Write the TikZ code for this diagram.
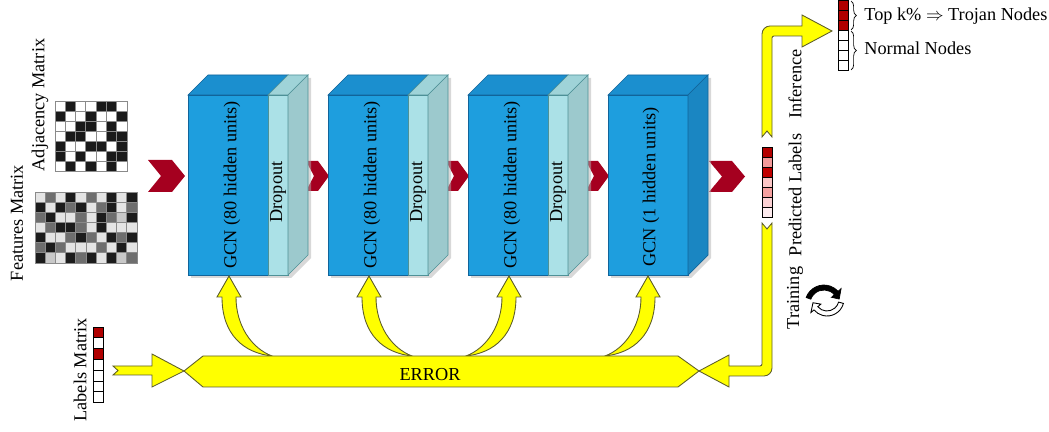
\documentclass[tikz,border=0pt]{standalone}
\usepackage{fontspec}
\setmainfont{Liberation Serif}
\usetikzlibrary{decorations.pathreplacing,arrows.meta}
\definecolor{gcnF}{HTML}{1E9EDE}
\definecolor{gcnT}{HTML}{1B8FCF}
\definecolor{gcnS}{HTML}{1A86C2}
\definecolor{gcnE}{HTML}{11649A}
\definecolor{drF}{HTML}{ABE1E7}
\definecolor{drT}{HTML}{9FD3D8}
\definecolor{drS}{HTML}{9CC9CD}
\definecolor{drE}{HTML}{4E9197}
\definecolor{chev}{HTML}{A5001F}
\definecolor{yel}{HTML}{FFFF00}
\definecolor{yelE}{HTML}{5E5E2A}
\definecolor{dred}{HTML}{B00000}
\definecolor{a0}{HTML}{FFFFFF}
\definecolor{a1}{HTML}{1A1A1A}
\definecolor{fL}{HTML}{E4E4E4}
\definecolor{fS}{HTML}{C8C8C8}
\definecolor{fM}{HTML}{6E6E6E}
\definecolor{fK}{HTML}{1C1C1C}
\definecolor{gridgray}{HTML}{8A8A8A}
\definecolor{p1}{HTML}{B30000}
\definecolor{p2}{HTML}{F39A9A}
\definecolor{p3}{HTML}{C00000}
\definecolor{p4}{HTML}{FBC6C6}
\definecolor{p5}{HTML}{F5A0A0}
\definecolor{p6}{HTML}{FBD0D3}
\definecolor{p7}{HTML}{FDEBEE}
\definecolor{pw}{HTML}{FFFFFF}
\definecolor{pr}{HTML}{B00000}

\tikzset{
  lbl/.style={font=\fontsize{10.4}{12}\selectfont, inner sep=0pt},
  yarr/.style={fill=yel, draw=yelE, line width=0.5pt, line join=miter},
  chevshape/.style={fill=chev, draw=none},
  cellbox/.style={draw=black, line width=0.5pt},
}

% block: #1 x0, #2 label, #3 dropout flag, #4 name
\newcommand\gcnblock[4]{%
  \pgfmathsetmacro\xa{#1}%
  \pgfmathsetmacro\xb{#1+80}%
  \ifnum#3=1 \pgfmathsetmacro\xr{#1+100}\else\pgfmathsetmacro\xr{#1+80}\fi
  \fill[black!30,opacity=0.5] (\xa+3,278) -- (\xa+3,98) -- (\xa+23,78) -- (\xr+23,78) -- (\xr+23,258) -- (\xr+3,278) -- cycle;
  \filldraw[fill=gcnF,draw=gcnE,line width=0.4pt] (\xa,95) rectangle (\xb,275);
  \filldraw[fill=gcnT,draw=gcnE,line width=0.4pt] (\xa,95) -- (\xa+20,75) -- (\xb+20,75) -- (\xb,95) -- cycle;
  \ifnum#3=1
    \filldraw[fill=drF,draw=drE,line width=0.4pt] (\xb,95) rectangle (\xr,275);
    \filldraw[fill=drT,draw=drE,line width=0.4pt] (\xb,95) -- (\xb+20,75) -- (\xr+20,75) -- (\xr,95) -- cycle;
    \filldraw[fill=drS,draw=drE,line width=0.4pt] (\xr,95) -- (\xr+20,75) -- (\xr+20,255) -- (\xr,275) -- cycle;
    \node[lbl,rotate=90] (#4-gcn) at (\xa+44,185) {#2};
    \node[lbl,rotate=90] (#4-drop) at (\xb+10,192) {Dropout};
  \else
    \filldraw[fill=gcnS,draw=gcnE,line width=0.4pt] (\xb,95) -- (\xb+20,75) -- (\xb+20,255) -- (\xb,275) -- cycle;
    \node[lbl,rotate=90] (#4-gcn) at (\xa+43,187) {#2};
  \fi
}

% curved feedback arrow: #1 tip x, #2 direction (1 = tail to the right, -1 = to the left)
\newcommand\feedback[2]{%
  \begin{scope}[shift={(#1,0)},xscale=#2]
    \filldraw[yarr] (0,276) -- (12,297) -- (7,297) .. controls (7,325) and (22,348) .. (43,356)
      .. controls (15,353) and (-7,335) .. (-7,297) -- (-12,297) -- cycle;
  \end{scope}
}

\begin{document}
\begin{tikzpicture}[x=0.02cm,y=-0.02cm]
\useasboundingbox (0,0) rectangle (1049,432);

% ---------- adjacency matrix ----------
\foreach \row [count=\r] in {{0,1,0,0,1,1,0},{1,0,0,1,0,0,1},{0,0,1,1,0,1,0},{0,1,1,0,0,1,1},{1,0,0,1,1,0,1},{1,0,1,0,0,1,1},{0,1,0,1,0,1,0}}{
  \foreach \v [count=\c] in \row {
    \filldraw[fill=a\v, draw=gridgray, line width=0.5pt] ({55+(\c-1)*10.3},{101+(\r-1)*10.1}) rectangle ++(10.3,10.1);
  }
}
% ---------- features matrix ----------
\foreach \row [count=\r] in {{L,M,L,K,L,M,L,K,L,K},{K,L,K,M,K,L,M,K,L,M},{M,K,L,L,M,L,K,M,S,K},{L,M,K,K,M,L,K,L,L,L},{K,L,L,M,K,M,L,K,M,K},{M,K,M,L,L,L,M,L,K,L},{K,S,L,K,M,K,L,K,S,M}}{
  \foreach \v [count=\c] in \row {
    \filldraw[fill=f\v, draw=gridgray, line width=0.5pt] ({35+(\c-1)*10.2},{192+(\r-1)*10.15}) rectangle ++(10.2,10.15);
  }
}
\node[lbl,rotate=90] (adjlbl) at (40,105) {Adjacency Matrix};
\node[lbl,rotate=90] (featlbl) at (17,223) {Features Matrix};

% ---------- chevrons ----------
\fill[chevshape] (148,160) -- (172,160) -- (185,176) -- (172,192) -- (148,192) -- (161,176) -- cycle;
\foreach \cx in {306,446,586}{
  \fill[chevshape] (\cx,161) -- (\cx+12,161) -- (\cx+23,176) -- (\cx+12,191) -- (\cx,191) -- (\cx+8,176) -- cycle;
}
\fill[chevshape] (709,161) -- (732,161) -- (745,176.5) -- (732,192) -- (709,192) -- (722,176.5) -- cycle;

% ---------- blocks ----------
\gcnblock{188}{GCN (80 hidden units)}{1}{b1}
\gcnblock{328}{GCN (80 hidden units)}{1}{b2}
\gcnblock{468}{GCN (80 hidden units)}{1}{b3}
\gcnblock{608}{GCN (1 hidden units)}{0}{b4}

% ---------- feedback arrows ----------
\feedback{229}{1}
\feedback{369}{1}
\feedback{509}{-1}
\feedback{648}{-1}

% ---------- error bar and input arrow ----------
\filldraw[yarr] (184,371) -- (203,356) -- (678,356) -- (699,371) -- (678,387) -- (203,387) -- cycle;
\node[lbl] (err) at (430,375) {ERROR};
\filldraw[yarr] (113,366) -- (152,366) -- (152,354) -- (184,371) -- (152,387) -- (152,375) -- (113,375) -- (118,370.5) -- cycle;

% labels matrix
\foreach \col [count=\i] in {pr,pw,pr,pw,pw,pw,pw}{
  \filldraw[cellbox, fill=\col] (93,{327+(\i-1)*10.8}) rectangle ++(10,10.8);
}
\node[lbl,rotate=90] (labmat) at (80,370) {Labels Matrix};

% ---------- predicted labels ----------
\foreach \col [count=\i] in {p1,p2,p3,p4,p5,p6,p7}{
  \filldraw[cellbox, fill=\col] (762,{147+(\i-1)*10}) rectangle ++(10,10);
}

% inference arrow (up and right)
\filldraw[yarr] (762,137) -- (762,34) arc[start angle=180,end angle=270,radius=8] -- (802,26) -- (802,15) -- (832,31) -- (802,47) -- (802,36) -- (774,36) arc[start angle=270,end angle=180,radius=2] -- (772,137) -- (767,131) -- cycle;
% training arrow (down and left)
\filldraw[yarr] (762,223) -- (767,229) -- (772,223) -- (772,368) arc[start angle=0,end angle=90,radius=8] -- (729,376) -- (729,387) -- (699,371) -- (729,355) -- (729,366) -- (760,366) arc[start angle=90,end angle=0,radius=2] -- cycle;

% top output column
\foreach \col [count=\i] in {pr,pr,pr,pw,pw,pw,pw}{
  \filldraw[cellbox, fill=\col] (838,{0.5+(\i-1)*10}) rectangle ++(10,10);
}
\draw[decorate,decoration={brace,amplitude=3pt}] (851,1) -- (851,30);
\draw[decorate,decoration={brace,amplitude=3pt}] (851,31) -- (851,70);
\node[lbl,anchor=west] (trojan) at (864,16) {Top k\% $\Rightarrow$ Trojan Nodes};
\node[lbl,anchor=west] (normal) at (864,48) {Normal Nodes};

\node[lbl,rotate=90] (inf) at (795,84) {Inference};
\node[lbl,rotate=90] (pred) at (795,195) {Predicted Labels};
\node[lbl,rotate=90] (train) at (795,298) {Training};

% training cycle icon
\filldraw[fill=black,draw=black,line width=0.4pt] ([shift={(200:19)}]824,304) arc[start angle=200,end angle=318,radius=19] -- ([shift={(318:23)}]824,304) -- ([shift={(342:16)}]824,304) -- ([shift={(318:10)}]824,304) -- ([shift={(318:14)}]824,304) arc[start angle=318,end angle=200,radius=14] -- cycle;
\filldraw[fill=white,draw=black,line width=0.5pt] ([shift={(15:17)}]827,299) arc[start angle=15,end angle=140,radius=17] -- ([shift={(140:21)}]827,299) -- ([shift={(165:14.5)}]827,299) -- ([shift={(140:8)}]827,299) -- ([shift={(140:12)}]827,299) arc[start angle=140,end angle=15,radius=12] -- cycle;
\end{tikzpicture}
\end{document}
